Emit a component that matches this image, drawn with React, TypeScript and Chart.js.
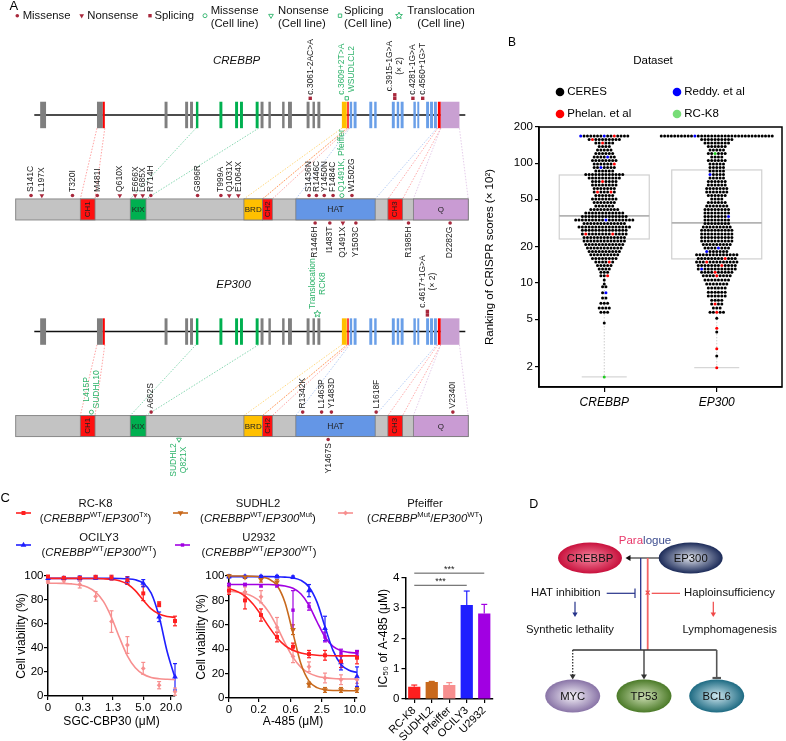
import React, { useEffect, useRef } from 'react';
import { Chart, registerables } from 'chart.js';

Chart.register(...registerables);

const FONT = '"Liberation Sans", Arial, Helvetica, sans-serif';
const DARKRED = '#a8283c';
const CELLGREEN = '#2eb36b';

// ===================== PANEL A DATA =====================
const mutationLegendNames = ['Missense', 'Nonsense', 'Splicing', 'Missense', 'Nonsense', 'Splicing', 'Translocation'];
const mutationLegendSub = ['', '', '', '(Cell line)', '(Cell line)', '(Cell line)', '(Cell line)'];
const mutationLegendTypes = ['m', 'n', 's', 'mc', 'nc', 'sc', 't'];

const geneNames = ['CREBBP', 'EP300'];
const geneSpan = [30, 470];
const proteinSpan = [11, 473];
const exonStart = [36, 94, 100, 163, 184, 189, 195, 219, 235, 240, 256, 261, 269, 283, 289, 308, 314, 319, 344, 349.5, 352, 356, 372, 377, 395, 400, 404, 417, 421, 430, 434, 438, 442, 445];
const exonEnd = [42, 100, 102, 166, 187, 192, 197.5, 222, 238, 243, 259, 264, 271.5, 285.5, 293, 311, 316.5, 322, 349, 351, 354.5, 359, 375, 379.5, 398, 402.5, 407, 419.5, 423, 433, 437, 441, 445, 464];
const exonKind = ['g', 'g', 'r', 'g', 'g', 'g', 'G', 'G', 'G', 'G', 'G', 'g', 'g', 'g', 'g', 'g', 'g', 'g', 'y', 'r', 'b', 'b', 'b', 'b', 'b', 'b', 'b', 'b', 'b', 'b', 'b', 'b', 'r', 'p'];

const domainNames = ['CH1', 'KIX', 'BRD', 'CH2', 'HAT', 'CH3', 'Q'];
const domainStart = [77, 128, 244, 263, 297, 391, 417];
const domainEnd = [92, 144, 263, 273, 378, 406, 473];
const domainExonFrom = [94, 195, 344, 349.5, 352, 442, 445];
const domainExonTo = [102, 259, 349, 351, 441, 445, 464];

const crebbpProtLabels = ['S141C', 'L197X', 'T320I', 'M481I', 'Q610X', 'E666X', 'L685X', 'R714H', 'G896R', 'T999A', 'Q1031X', 'E1064X', 'S1436N', 'R1446C', 'Y1450N', 'F1484C', 'Q1491K, Pfeiffer', 'W1502G', 'R1446H', 'I1483T', 'Q1491X', 'Y1503C', 'R1985H', 'D2282G'];
const crebbpProtPos = [26.7, 37.7, 69, 94.3, 117.3, 133, 140.7, 149, 196.7, 220.5, 229, 238.3, 310.5, 318, 326, 335, 344, 354.3, 316.7, 331.7, 345, 358.3, 412, 454.5];
const crebbpProtType = ['m', 'n', 'm', 'm', 'n', 'n', 'n', 'm', 'm', 'm', 'n', 'n', 'm', 'm', 'm', 'm', 'mc', 'm', 'm', 'm', 'n', 'm', 'm', 'm'];
const crebbpProtSide = ['u', 'u', 'u', 'u', 'u', 'u', 'u', 'u', 'u', 'u', 'u', 'u', 'u', 'u', 'u', 'u', 'u', 'u', 'd', 'd', 'd', 'd', 'd', 'd'];

const crebbpSpliceLabels = ['c.3061-2AC>A', 'c.3609+2T>A|WSUDLCL2', 'c.3915-1G>A|(× 2)', 'c.4281-1G>A', 'c.4560+1G>T'];
const crebbpSplicePos = [311.7, 349, 398, 416.5, 426.5];
const crebbpSpliceType = ['s', 'sc', 's', 's', 's'];
const crebbpSpliceCount = [1, 1, 2, 1, 1];

const ep300ProtLabels = ['L415P|SUDHL10', 'A662S', 'R1342K', 'L1463P', 'Y1483D', 'L1618F', 'V2340I', 'SUDHL2|Q821X', 'Y1467S'];
const ep300ProtPos = [88.3, 149.3, 304, 323.3, 333.3, 379, 457.3, 177.7, 330];
const ep300ProtType = ['mc', 'm', 'm', 'm', 'm', 'm', 'm', 'nc', 'm'];
const ep300ProtSide = ['u', 'u', 'u', 'u', 'u', 'u', 'u', 'd', 'd'];

const ep300SpliceLabels = ['Translocation|RCK8', 'c.4617+1G>A|(× 2)'];
const ep300SplicePos = [319, 431.3];
const ep300SpliceType = ['t', 's'];
const ep300SpliceCount = [1, 2];

// ===================== PANEL B DATA =====================
const swarmCategories = ['CREBBP', 'EP300'];
const swarmTicks = [2, 5, 10, 20, 50, 100, 200];
const datasetNames = ['CERES', 'Reddy. et al', 'Phelan. et al', 'RC-K8'];
const datasetCodes = ['k', 'b', 'r', 'g'];

const crebbpRowValues = [168.1, 157.3, 147.1, 137.6, 128.6, 120.3, 112.5, 105.1, 98.3, 91.9, 86.0, 80.4, 75.2, 70.3, 65.7, 61.5, 57.5, 53.7, 50.2, 47.0, 43.9, 41.1, 38.4, 35.9, 33.6, 31.4, 29.4, 27.5, 25.7, 24.0, 22.4, 21.0, 19.6, 18.3, 17.2, 16.0, 15.0, 14.0, 13.1, 12.3, 11.5, 10.6, 9.8, 9.3, 8.3, 7.5, 6.8, 6.2, 5.7, 4.65, 1.65];
const crebbpRowDots = ['bkkkkkkbkkrkkkk', 'krkkkkkkkk', 'kkrkkk', 'kkkk', 'kkkkk', 'kkkkkk', 'kkkkbkk', 'kkkkkkkk', 'kkkkkkr', 'kkbkkkk', 'kkkkkk', 'kkkkkkkkkkkk', 'kkkkkkkkkk', 'kkkrkkkk', 'kkkkkkkk', 'kkkkkkk', 'krkkkrk', 'kkkkkk', 'kkkkkkkk', 'kkkkkkk', 'kkkkkk', 'kkkkkkkkk', 'kkkkkkkkkkkk', 'kkkkkkkkkkkkkk', 'kkkkkkkkkbkkkkkkkk', 'kkkkkkkkkkkkk', 'kkkkkkkkkkkkkkkk', 'kkkkkkkkkkkkkk', 'krkkkkkkkrkkkk', 'kkkkkkkkkkkkk', 'kkkkkkkkkkkkk', 'kkkkkkkkkkkk', 'kkkkkkkkkkk', 'kkkkkkkkkk', 'kkkkkkkkk', 'kkkkkkkk', 'kkkkrk', 'kkkkk', 'kkkk', 'kkk', 'kkr', 'k', 'k', 'kk', 'kb', 'kk', 'kkk', 'kkkk', 'kkk', 'k', 'g'];

const ep300RowValues = [168.1, 157.3, 147.1, 137.6, 128.6, 120.3, 112.5, 105.1, 98.3, 91.9, 86.0, 80.4, 75.2, 70.3, 65.7, 61.5, 57.5, 53.7, 50.2, 47.0, 43.9, 41.1, 38.4, 35.9, 33.6, 31.4, 29.4, 27.5, 25.7, 24.0, 22.4, 21.0, 19.6, 18.3, 17.2, 16.0, 15.0, 14.0, 13.1, 12.3, 11.5, 10.6, 9.8, 9.1, 8.4, 7.8, 7.2, 6.7, 6.2, 5.7, 5.1, 4.2, 3.9, 2.83, 2.47, 1.97];
const ep300RowDots = ['kkkkkkkkkkbkkkkkkkkkkkkkkkkkkkkkkk', 'kkkkkkkkkk', 'kkkkkkkk', 'kkkkkk', 'kkkkk', 'kkgkkk', 'kkkk', 'kkkkkk', 'kkkkk', 'kkkkk', 'kkkkk', 'bkkkk', 'kkkkk', 'kkkkkk', 'kkkkkk', 'kkkkkkk', 'kkkkkkk', 'kkkkkk', 'kkkk', 'kkkkkk', 'kkkkkkk', 'kkkkkkkk', 'kkkkkkkk', 'kkkkkkkb', 'kkkkkkkk', 'kkkkkkkk', 'kkkkkkkkk', 'kkkkkkkkkk', 'kkkkkkkkkk', 'kkkkkkkkkk', 'kkkkkkkkkk', 'kkkkkkkkk', 'kkkkbkkk', 'bkkkkkk', 'kkkkkkkkkkkkk', 'kkkkkkkkrkkk', 'kkkrkkkkkkkkk', 'kkkkkkkrkkkk', 'kbkkkkkkkkkk', 'kkkkrkkkkk', 'kkkkrkkkk', 'kkkkkkkk', 'kkkkkkk', 'kkkkkk', 'kkkkkk', 'kkkkkk', 'kkkk', 'krkk', 'kkk', 'kkrkk', 'k', 'r', 'k', 'r', 'k', 'r'];

const boxQ1 = [23.3, 15.9];
const boxMedian = [36.3, 31.7];
const boxQ3 = [79.6, 87.7];
const whiskerLow = [1.65, 1.97];
const whiskerHigh = [168.1, 168.1];

// ===================== PANEL C DATA =====================
const cellLines = ['RC-K8', 'SUDHL2', 'Pfeiffer', 'OCILY3', 'U2932'];
const crebbpStatus = ['WT', 'WT', 'Mut', 'WT', 'WT'];
const ep300Status = ['Tx', 'Mut', 'WT', 'WT', 'WT'];
const doseIndex = [0, 1, 2, 3, 4, 5, 6, 7, 8];
const curveIndex = [0, 0.5, 1, 1.5, 2, 2.5, 3, 3.5, 4, 4.5, 5, 5.5, 6, 6.5, 7, 7.5, 8];
const sgcTickPos = [0, 2.2, 4.1, 6, 7.75];
const sgcTickLabels = ['0', '0.3', '1.3', '5.0', '20.0'];
const a485TickPos = [0, 1.85, 3.85, 5.8, 7.85];
const a485TickLabels = ['0', '0.2', '0.6', '2.5', '10.0'];

const sgcRCK8Mean = [99.5, 98.5, 98.5, 99, 98.6, 96.5, 85.5, 76.5, 62.5];
const sgcRCK8Err = [1, 1, 1, 1.5, 2, 3, 6, 2, 4];
const sgcRCK8Fit = [98, 98, 98, 98, 98, 97.9, 97.9, 97.7, 97.3, 96.1, 93.3, 87.8, 79.9, 72.6, 68.3, 66.3, 65.5];
const sgcOCILY3Mean = [98, 98, 98, 98.5, 98, 96, 94, 66, 16];
const sgcOCILY3Err = [1, 1.5, 2, 1, 1, 3, 3, 4, 11];
const sgcOCILY3Fit = [98, 98, 98, 98, 98, 98, 98, 98, 98, 97.9, 97.6, 96.8, 94.0, 85.8, 66.2, 37.3, 15.1];
const sgcPfeifferMean = [95, 96, 93, 83, 62, 42.5, 23, 9, 3.6];
const sgcPfeifferErr = [1, 2, 3, 4, 9, 7, 5, 3, 3];
const sgcPfeifferFit = [94, 94, 93.7, 93.4, 92.6, 90.7, 86.6, 78.6, 65.4, 48.7, 33.5, 23.5, 18.1, 15.5, 14.4, 13.9, 13.6];

const a485RCK8Mean = [88, 80, 68, 50, 42, 36, 35, 30, 33];
const a485RCK8Err = [3, 7, 5, 4, 3, 3, 4, 5, 5];
const a485RCK8Fit = [89.6, 87.4, 83.5, 77.1, 68.2, 58.3, 49.4, 43.0, 39.1, 36.9, 35.7, 35.1, 34.8, 34.6, 34.5, 34.5, 34.5];
const a485SUDHL2Mean = [100, 99, 97, 95, 56, 11, 6.6, 6.6, 6.6];
const a485SUDHL2Err = [1, 1, 2, 2, 4, 2, 2, 2, 2];
const a485SUDHL2Fit = [100, 100, 99.9, 99.8, 99.2, 97.5, 92.2, 78.3, 53, 27.8, 13.8, 8.5, 6.8, 6.2, 6.1, 6, 6];
const a485PfeifferMean = [88, 87, 83, 58, 34, 25.6, 16.4, 15, 15];
const a485PfeifferErr = [2, 4, 5, 8, 5, 4, 4, 4, 3];
const a485PfeifferFit = [87.5, 86.8, 85.6, 83.1, 78.4, 70.2, 58.5, 45.0, 33.3, 25.1, 20.4, 17.9, 16.7, 16.0, 15.7, 15.6, 15.5];
const a485OCILY3Mean = [99.5, 99.5, 99.5, 99.5, 99, 88, 57, 29, 17.5];
const a485OCILY3Err = [1, 1, 1, 1, 1, 5, 10, 6, 8];
const a485OCILY3Fit = [99.5, 99.5, 99.5, 99.5, 99.5, 99.5, 99.4, 99.1, 98.5, 96.4, 91.0, 78.6, 58.4, 39.0, 27.5, 22.7, 20.9];
const a485U2932Mean = [93, 93, 92, 92, 72, 75, 50, 37, 37];
const a485U2932Err = [1, 1, 1, 1, 16, 3, 4, 3, 2];
const a485U2932Fit = [93, 93, 93, 93, 93, 93, 92.6, 91.8, 89.9, 85.2, 76.0, 62.5, 50.0, 42.3, 38.8, 37.4, 36.8];

const ic50Mean = [0.40, 0.56, 0.46, 3.10, 2.82];
const ic50Err = [0.06, 0.02, 0.08, 0.46, 0.30];
const sigPairs = [[0, 3], [0, 4]];
const sigLevel = [3.75, 4.15];
const sigLabels = ['***', '***'];

// ===================== PANEL D DATA =====================
const nodeNames = ['CREBBP', 'EP300', 'MYC', 'TP53', 'BCL6'];
const effectLabels = ['HAT inhibition', 'Synthetic lethality', 'Haploinsufficiency', 'Lymphomagenesis'];
const paralogueParts = ['Para', 'logue'];

// ===================== STYLES / LAYOUT =====================
const EXON_COLORS: any = { g: '#7f7f7f', r: '#ff0000', G: '#00b050', y: '#ffc000', b: '#6a9fe8', p: '#c9a0d2' };
const DOMAIN_FILL = ['#ff1010', '#00b050', '#ffc000', '#ff1010', '#6496e6', '#ff1010', '#c99bd3'];
const CONNECTOR = ['rgba(255,90,90,0.7)', 'rgba(0,170,90,0.6)', 'rgba(255,190,40,0.75)', 'rgba(255,70,70,0.6)', 'rgba(90,140,230,0.55)', 'rgba(255,80,80,0.6)', 'rgba(200,150,210,0.6)'];
const GENE_Y = [112.3, 333.3];
const EXON_HALF = 13.5;
const PROT_TOP = [198, 419];
const PROT_H = 21;
const PT_STYLE: any = { m: 'circle', n: 'triangle', s: 'rect', mc: 'circle', nc: 'triangle', sc: 'rect', t: 'circle' };
const PT_RADIUS: any = { m: 1.8, n: 2.7, s: 2.4, mc: 2.0, nc: 2.7, sc: 2.4, t: 0 };

const SWARM_COLORS = ['#000000', '#0000ff', '#ff0000', '#22cc22'];
const LEGEND_DOT = ['#000000', '#0000ff', '#ff0000', '#77dd77'];
const SWARM_DX = 0.0299;

const lineColors = ['#ff1f1f', '#c8691c', '#f78f8f', '#1f1fff', '#a100e2'];
const markStyles = ['rect', 'triangle', 'rectRot', 'triangle', 'rect'];
const markRot = [0, 180, 0, 0, 0];
const markRadii = [2.8, 3.3, 2.4, 3.3, 2.4];

function line(ctx: any, x1: number, y1: number, x2: number, y2: number) {
  ctx.beginPath();
  ctx.moveTo(x1, y1);
  ctx.lineTo(x2, y2);
  ctx.stroke();
}

function drawMark(ctx: any, style: string, x: number, y: number, r: number, rot: number, fill: string, stroke: string, lw: number) {
  ctx.save();
  ctx.translate(x, y);
  ctx.rotate((rot * Math.PI) / 180);
  ctx.beginPath();
  if (style === 'circle') ctx.arc(0, 0, r, 0, Math.PI * 2);
  else if (style === 'rect') {
    const s = r * Math.SQRT1_2;
    ctx.rect(-s, -s, 2 * s, 2 * s);
  } else if (style === 'rectRot') {
    ctx.moveTo(0, -r); ctx.lineTo(r, 0); ctx.lineTo(0, r); ctx.lineTo(-r, 0); ctx.closePath();
  } else if (style === 'triangle') {
    ctx.moveTo(0, -r); ctx.lineTo(r * 0.866, r * 0.5); ctx.lineTo(-r * 0.866, r * 0.5); ctx.closePath();
  } else if (style === 'star') {
    for (let k = 0; k < 10; k++) {
      const rr = k % 2 === 0 ? r : r * 0.45;
      const a = -Math.PI / 2 + (k * Math.PI) / 5;
      if (k === 0) ctx.moveTo(rr * Math.cos(a), rr * Math.sin(a));
      else ctx.lineTo(rr * Math.cos(a), rr * Math.sin(a));
    }
    ctx.closePath();
  }
  if (fill) { ctx.fillStyle = fill; ctx.fill(); }
  if (lw > 0) { ctx.strokeStyle = stroke; ctx.lineWidth = lw; ctx.stroke(); }
  ctx.restore();
}

function isCell(t: string) { return t.length === 2 || t === 't'; }

function markSpec(t: string) {
  const cell = isCell(t);
  return {
    style: t === 't' ? 'star' : PT_STYLE[t],
    radius: t === 't' ? 3.6 : PT_RADIUS[t],
    rot: t === 'n' || t === 'nc' ? 180 : 0,
    fill: cell ? '#ffffff' : DARKRED,
    stroke: cell ? CELLGREEN : DARKRED,
    lw: cell ? 0.9 : 0,
  };
}

function vText(ctx: any, text: string, x: number, anchor: number, dir: string, color: string, size: number) {
  const lines = text.split('|');
  ctx.save();
  ctx.font = `${size}px ${FONT}`;
  ctx.fillStyle = color;
  const w = Math.max(...lines.map((l) => ctx.measureText(l).width));
  const cy = dir === 'u' ? anchor - w / 2 : anchor + w / 2;
  const gap = 10;
  lines.forEach((l, i) => {
    ctx.save();
    ctx.translate(x + (i - (lines.length - 1) / 2) * gap, cy);
    ctx.rotate(-Math.PI / 2);
    ctx.textAlign = 'center';
    ctx.textBaseline = 'middle';
    ctx.fillText(l, 0, 0);
    ctx.restore();
  });
  ctx.restore();
}

function drawRuns(ctx: any, runs: any[], cx: number, y: number, size: number) {
  const fontOf = (r: any) => `${r.it ? 'italic ' : ''}${r.sup ? size * 0.68 : size}px ${FONT}`;
  let w = 0;
  runs.forEach((r) => { ctx.font = fontOf(r); w += ctx.measureText(r.t).width; });
  let x = cx - w / 2;
  ctx.textAlign = 'left';
  ctx.textBaseline = 'alphabetic';
  runs.forEach((r) => {
    ctx.font = fontOf(r);
    ctx.fillText(r.t, x, r.sup ? y - size * 0.4 : y);
    x += ctx.measureText(r.t).width;
  });
}

function buildTrack(g: number) {
  const L = g === 0
    ? { pl: crebbpProtLabels, pp: crebbpProtPos, pt: crebbpProtType, ps: crebbpProtSide, sl: crebbpSpliceLabels, sp: crebbpSplicePos, st: crebbpSpliceType, sc: crebbpSpliceCount }
    : { pl: ep300ProtLabels, pp: ep300ProtPos, pt: ep300ProtType, ps: ep300ProtSide, sl: ep300SpliceLabels, sp: ep300SplicePos, st: ep300SpliceType, sc: ep300SpliceCount };
  const pts: any[] = [];
  L.pl.forEach((lab, i) => {
    const up = L.ps[i] === 'u';
    pts.push({ x: L.pp[i], y: up ? PROT_TOP[g] - 3.5 : PROT_TOP[g] + PROT_H + 3.5, type: L.pt[i], label: lab, dir: up ? 'u' : 'd' });
  });
  L.sl.forEach((lab, i) => {
    const top = GENE_Y[g] - EXON_HALF;
    for (let k = 0; k < L.sc[i]; k++) {
      const y = top - (L.st[i] === 't' ? 4.5 : 3.5) - k * 3.6;
      pts.push({ x: L.sp[i], y, type: L.st[i], label: k === L.sc[i] - 1 ? lab : '', dir: 'u' });
    }
  });
  return pts;
}

const panelAPlugin = {
  id: 'panelA',
  beforeDatasetsDraw(chart: any) {
    const ctx = chart.ctx;
    const X = (v: number) => chart.scales.x.getPixelForValue(v);
    const Y = (v: number) => chart.scales.y.getPixelForValue(v);
    ctx.save();
    ctx.fillStyle = '#000';
    ctx.font = `13px ${FONT}`;
    ctx.textAlign = 'left';
    ctx.textBaseline = 'alphabetic';
    ctx.fillText('A', 9.5, 10);

    const legX = [17.3, 81.7, 150, 205, 271, 340, 399];
    const legTX = [22.7, 87.3, 154.5, 210.7, 278, 344, 441];
    mutationLegendTypes.forEach((t, i) => {
      const m = markSpec(t);
      drawMark(ctx, m.style, legX[i], 15.7, m.radius, m.rot, m.fill, m.stroke, m.lw);
      ctx.fillStyle = '#111';
      ctx.font = `11.3px ${FONT}`;
      ctx.textAlign = t === 't' ? 'center' : 'left';
      ctx.textBaseline = 'middle';
      if (mutationLegendSub[i]) {
        ctx.fillText(mutationLegendNames[i], legTX[i], 10.7);
        ctx.fillText(mutationLegendSub[i], legTX[i], 24);
      } else ctx.fillText(mutationLegendNames[i], legTX[i], 15.7);
    });

    ctx.font = `italic 11.5px ${FONT}`;
    ctx.fillStyle = '#111';
    ctx.textAlign = 'center';
    ctx.fillText(geneNames[0], X(236.5), Y(57));
    ctx.fillText(geneNames[1], X(233.4), Y(286));

    for (let g = 0; g < 2; g++) {
      const gy = GENE_Y[g];
      const pt = PROT_TOP[g];
      ctx.lineWidth = 0.8;
      ctx.setLineDash([1.5, 1.5]);
      domainNames.forEach((_, d) => {
        ctx.strokeStyle = CONNECTOR[d];
        line(ctx, X(domainExonFrom[d]), Y(gy + EXON_HALF), X(domainStart[d]), Y(pt));
        line(ctx, X(domainExonTo[d]), Y(gy + EXON_HALF), X(domainEnd[d]), Y(pt));
      });
      ctx.setLineDash([]);
      ctx.strokeStyle = '#111';
      ctx.lineWidth = 1.6;
      line(ctx, X(geneSpan[0]), Y(gy), X(geneSpan[1]), Y(gy));
      exonStart.forEach((s, i) => {
        ctx.fillStyle = EXON_COLORS[exonKind[i]];
        ctx.fillRect(X(s), Y(gy - EXON_HALF), X(exonEnd[i]) - X(s), Y(gy + EXON_HALF) - Y(gy - EXON_HALF));
      });
      ctx.fillStyle = '#c3c3c3';
      ctx.strokeStyle = '#8a8a8a';
      ctx.lineWidth = 1;
      ctx.fillRect(X(proteinSpan[0]), Y(pt), X(proteinSpan[1]) - X(proteinSpan[0]), PROT_H);
      ctx.strokeRect(X(proteinSpan[0]), Y(pt), X(proteinSpan[1]) - X(proteinSpan[0]), PROT_H);
      domainNames.forEach((name, d) => {
        const x0 = X(domainStart[d]);
        const x1 = X(domainEnd[d]);
        ctx.fillStyle = DOMAIN_FILL[d];
        ctx.fillRect(x0, Y(pt), x1 - x0, PROT_H);
        ctx.strokeStyle = '#7a7a7a';
        ctx.lineWidth = 0.8;
        ctx.strokeRect(x0, Y(pt), x1 - x0, PROT_H);
        ctx.fillStyle = '#222';
        ctx.font = `${name === 'HAT' ? 8.5 : 8}px ${FONT}`;
        ctx.textAlign = 'center';
        ctx.textBaseline = 'middle';
        const cx = (x0 + x1) / 2;
        const cy = Y(pt + PROT_H / 2);
        if (name.startsWith('CH')) {
          ctx.save();
          ctx.translate(cx, cy);
          ctx.rotate(-Math.PI / 2);
          ctx.fillText(name, 0, 0);
          ctx.restore();
        } else ctx.fillText(name, cx, cy + 0.5);
      });
    }
    ctx.restore();
  },
  afterDatasetsDraw(chart: any) {
    const ctx = chart.ctx;
    chart.data.datasets.forEach((ds: any, di: number) => {
      const meta = chart.getDatasetMeta(di);
      ds.mut.forEach((p: any, j: number) => {
        const el = meta.data[j];
        if (p.type === 't') {
          const m = markSpec('t');
          drawMark(ctx, m.style, el.x, el.y, m.radius, 0, m.fill, m.stroke, m.lw);
        }
        if (!p.label) return;
        const off = p.type === 't' ? 5 : 3.6;
        const anchor = p.dir === 'u' ? el.y - off : el.y + off;
        vText(ctx, p.label, el.x, anchor, p.dir, isCell(p.type) ? CELLGREEN : '#1a1a1a', 8.5);
      });
    });
  },
};

const panelBPlugin = {
  id: 'panelB',
  beforeDatasetsDraw(chart: any) {
    const ctx = chart.ctx;
    const sx = chart.scales.x;
    const sy = chart.scales.y;
    ctx.save();
    for (let i = 0; i < 2; i++) {
      const c = i + 1;
      const xc = sx.getPixelForValue(c);
      const xl = sx.getPixelForValue(c - 0.4);
      const xr = sx.getPixelForValue(c + 0.4);
      const y1 = sy.getPixelForValue(boxQ1[i]);
      const y3 = sy.getPixelForValue(boxQ3[i]);
      const ym = sy.getPixelForValue(boxMedian[i]);
      const ylo = sy.getPixelForValue(whiskerLow[i]);
      const yhi = sy.getPixelForValue(whiskerHigh[i]);
      ctx.strokeStyle = '#cccccc';
      ctx.lineWidth = 1;
      ctx.setLineDash([1.5, 1.5]);
      line(ctx, xc, y1, xc, ylo);
      line(ctx, xc, y3, xc, yhi);
      ctx.setLineDash([]);
      ctx.strokeStyle = '#d6d6d6';
      ctx.lineWidth = 1.2;
      line(ctx, sx.getPixelForValue(c - 0.2), ylo, sx.getPixelForValue(c + 0.2), ylo);
      ctx.strokeStyle = '#d0d0d0';
      ctx.strokeRect(xl, y3, xr - xl, y1 - y3);
      ctx.strokeStyle = '#b3b3b3';
      ctx.lineWidth = 1.8;
      line(ctx, xl, ym, xr, ym);
    }
    ctx.restore();
  },
  afterDraw(chart: any) {
    const ctx = chart.ctx;
    const a = chart.chartArea;
    ctx.save();
    ctx.strokeStyle = '#000';
    ctx.lineWidth = 1.5;
    ctx.strokeRect(a.left, a.top, a.right - a.left, a.bottom - a.top);
    ctx.fillStyle = '#000';
    ctx.font = `11.5px ${FONT}`;
    ctx.textAlign = 'center';
    ctx.textBaseline = 'middle';
    ctx.fillText('Dataset', 173, 31);
    datasetNames.forEach((n, i) => {
      const x = i % 2 === 0 ? 80 : 197;
      const y = i < 2 ? 62 : 84;
      ctx.beginPath();
      ctx.arc(x, y, 4.3, 0, Math.PI * 2);
      ctx.fillStyle = LEGEND_DOT[i];
      ctx.fill();
      ctx.fillStyle = '#000';
      ctx.textAlign = 'left';
      ctx.fillText(n, x + 7.3, y);
    });
    ctx.font = `12px ${FONT}`;
    ctx.textAlign = 'left';
    ctx.fillText('B', 28, 13);
    ctx.restore();
  },
};

const errorBarPlugin = {
  id: 'errbars',
  beforeDatasetsDraw(chart: any) { drawErrors(chart, false); },
  afterDatasetsDraw(chart: any) { drawErrors(chart, true); },
};

function drawErrors(chart: any, upperPass: boolean) {
  const ctx = chart.ctx;
  const sy = chart.scales.y;
  chart.data.datasets.forEach((ds: any, di: number) => {
    if (!ds.errors || !!ds.upperOnly !== upperPass) return;
    const meta = chart.getDatasetMeta(di);
    ctx.save();
    ctx.lineWidth = 1.2;
    meta.data.forEach((el: any, j: number) => {
      const d = ds.data[j];
      const v = typeof d === 'number' ? d : d.y;
      const e = ds.errors[j];
      if (!e) return;
      const col = Array.isArray(ds.backgroundColor) ? ds.backgroundColor[j] : ds.borderColor;
      ctx.strokeStyle = col;
      const yTop = sy.getPixelForValue(v + e);
      const yBot = sy.getPixelForValue(ds.upperOnly ? v : Math.max(0, v - e));
      const cw = ds.upperOnly ? 3 : 2;
      line(ctx, el.x, yTop, el.x, yBot);
      line(ctx, el.x - cw, yTop, el.x + cw, yTop);
      if (!ds.upperOnly) line(ctx, el.x - cw, yBot, el.x + cw, yBot);
    });
    ctx.restore();
  });
}

const c1LegendPlugin = {
  id: 'c1legend',
  afterDraw(chart: any) {
    const ctx = chart.ctx;
    ctx.save();
    ctx.fillStyle = '#000';
    ctx.font = `13px ${FONT}`;
    ctx.textAlign = 'left';
    ctx.textBaseline = 'alphabetic';
    ctx.fillText('C', 0.5, 11.7);
    const slots = [
      { mx: 23.5, my: 23, cx: 95.5, ny: 17, ly: 32 },
      { mx: 180.5, my: 23, cx: 258, ny: 17, ly: 32 },
      { mx: 345.5, my: 23, cx: 425, ny: 17, ly: 32 },
      { mx: 23.5, my: 55, cx: 99, ny: 50.7, ly: 65.7 },
      { mx: 182.5, my: 55, cx: 259, ny: 50.7, ly: 65.7 },
    ];
    cellLines.forEach((name, i) => {
      const s = slots[i];
      ctx.strokeStyle = lineColors[i];
      ctx.lineWidth = 1.6;
      line(ctx, s.mx - 7.5, s.my, s.mx + 7.5, s.my);
      drawMark(ctx, markStyles[i], s.mx, s.my, markRadii[i], markRot[i], lineColors[i], lineColors[i], 0);
      ctx.fillStyle = '#111';
      ctx.font = `11.3px ${FONT}`;
      ctx.textAlign = 'center';
      ctx.textBaseline = 'alphabetic';
      ctx.fillText(name, s.cx, s.ny);
      drawRuns(ctx, [
        { t: '(' }, { t: 'CREBBP', it: true }, { t: crebbpStatus[i], sup: true }, { t: '/' },
        { t: 'EP300', it: true }, { t: ep300Status[i], sup: true }, { t: ')' },
      ], s.cx, s.ly, 11.3);
    });
    ctx.restore();
  },
};

const sigPlugin = {
  id: 'sig',
  afterDraw(chart: any) {
    const ctx = chart.ctx;
    const sx = chart.scales.x;
    const sy = chart.scales.y;
    ctx.save();
    sigPairs.forEach(([a, b], i) => {
      const y = sy.getPixelForValue(sigLevel[i]);
      const x1 = sx.getPixelForValue(a);
      const x2 = sx.getPixelForValue(b);
      ctx.strokeStyle = '#555';
      ctx.lineWidth = 1;
      line(ctx, x1, y, x2, y);
      ctx.fillStyle = '#222';
      ctx.font = `9px ${FONT}`;
      ctx.textAlign = 'center';
      ctx.textBaseline = 'alphabetic';
      ctx.fillText(sigLabels[i], (x1 + x2) / 2, y - 1.5);
    });
    ctx.restore();
  },
};

const NODE_POS = [[90, 78], [190.7, 78], [72.7, 216], [144, 216], [216.7, 216]];
const NODE_R = [[32, 15.5], [32, 15.5], [27.5, 16.5], [27.5, 16.5], [27.5, 16.5]];
const NODE_IN = ['#f4869f', '#dfe3ec', '#f6f3f9', '#cfe0b6', '#cde6ee'];
const NODE_OUT = ['#c8103c', '#1b2a58', '#8873a6', '#4b7a28', '#1d6a82'];

function arrowHead(ctx: any, x: number, y: number, dir: string, size: number) {
  ctx.beginPath();
  if (dir === 'down') { ctx.moveTo(x, y); ctx.lineTo(x - size * 0.6, y - size); ctx.lineTo(x + size * 0.6, y - size); }
  else if (dir === 'left') { ctx.moveTo(x, y); ctx.lineTo(x + size, y - size * 0.6); ctx.lineTo(x + size, y + size * 0.6); }
  else { ctx.moveTo(x, y); ctx.lineTo(x - size, y - size * 0.6); ctx.lineTo(x - size, y + size * 0.6); }
  ctx.closePath();
  ctx.fill();
}

const panelDPlugin = {
  id: 'panelD',
  afterDatasetsDraw(chart: any) {
    const ctx = chart.ctx;
    const X = (v: number) => chart.scales.x.getPixelForValue(v);
    const Y = (v: number) => chart.scales.y.getPixelForValue(v);
    const meta = chart.getDatasetMeta(0);
    ctx.save();
    ctx.fillStyle = '#000';
    ctx.font = `12.5px ${FONT}`;
    ctx.textAlign = 'left';
    ctx.textBaseline = 'alphabetic';
    ctx.fillText('D', 29.3, 28.3);

    ctx.strokeStyle = '#111';
    ctx.fillStyle = '#111';
    ctx.lineWidth = 1.1;
    line(ctx, X(127), Y(78), X(163), Y(78));
    arrowHead(ctx, X(125.5), Y(78), 'left', 5);
    arrowHead(ctx, X(164.5), Y(78), 'right', 5);
    ctx.strokeStyle = '#26338a';
    ctx.lineWidth = 1.3;
    line(ctx, X(140.7), Y(78), X(140.7), Y(170));
    ctx.strokeStyle = '#f26464';
    ctx.lineWidth = 1.8;
    line(ctx, X(147.7), Y(78), X(147.7), Y(170));
    ctx.strokeStyle = '#333';
    ctx.lineWidth = 1.3;
    line(ctx, X(72.7), Y(170), X(216.7), Y(170));
    ctx.setLineDash([1.5, 1.5]);
    line(ctx, X(72.7), Y(170), X(72.7), Y(195));
    ctx.setLineDash([]);
    ctx.fillStyle = '#333';
    arrowHead(ctx, X(72.7), Y(199.5), 'down', 5);
    line(ctx, X(144), Y(170), X(144), Y(195));
    arrowHead(ctx, X(144), Y(199.5), 'down', 5);
    ctx.strokeStyle = '#555';
    ctx.lineWidth = 1.6;
    line(ctx, X(216.7), Y(170), X(216.7), Y(198));
    ctx.lineWidth = 2.2;
    line(ctx, X(212.5), Y(198), X(221), Y(198));
    ctx.strokeStyle = '#26338a';
    ctx.lineWidth = 1.2;
    line(ctx, X(106.7), Y(113.3), X(135), Y(113.3));
    line(ctx, X(135), Y(108.5), X(135), Y(118));
    ctx.strokeStyle = '#f04848';
    line(ctx, X(151.7), Y(113.3), X(180), Y(113.3));
    ctx.lineWidth = 1.2;
    line(ctx, X(145.7), Y(110.7), X(149.7), Y(114.7));
    line(ctx, X(149.7), Y(110.7), X(145.7), Y(114.7));
    ctx.strokeStyle = '#26338a';
    ctx.fillStyle = '#26338a';
    line(ctx, X(75), Y(121.7), X(75), Y(133));
    arrowHead(ctx, X(75), Y(137), 'down', 4.5);
    ctx.strokeStyle = '#f04848';
    ctx.fillStyle = '#f04848';
    line(ctx, X(213.3), Y(121.7), X(213.3), Y(133));
    arrowHead(ctx, X(213.3), Y(137), 'down', 4.5);

    nodeNames.forEach((name, i) => {
      const el = meta.data[i];
      const [rx, ry] = NODE_R[i];
      ctx.save();
      ctx.translate(el.x, el.y);
      ctx.scale(1, ry / rx);
      const gr = ctx.createRadialGradient(0, 0, 0, 0, 0, rx);
      gr.addColorStop(0, NODE_IN[i]);
      gr.addColorStop(1, NODE_OUT[i]);
      ctx.beginPath();
      ctx.arc(0, 0, rx, 0, Math.PI * 2);
      ctx.fillStyle = gr;
      ctx.fill();
      ctx.restore();
      ctx.fillStyle = '#111';
      ctx.font = `11.3px ${FONT}`;
      ctx.textAlign = 'center';
      ctx.textBaseline = 'middle';
      ctx.fillText(name, el.x, el.y + 0.5);
    });

    ctx.font = `11.5px ${FONT}`;
    ctx.textBaseline = 'middle';
    ctx.textAlign = 'left';
    const w1 = ctx.measureText(paralogueParts[0]).width;
    const w2 = ctx.measureText(paralogueParts[1]).width;
    const px = X(145) - (w1 + w2) / 2;
    ctx.fillStyle = '#e8386a';
    ctx.fillText(paralogueParts[0], px, Y(60.7));
    ctx.fillStyle = '#3d4d8f';
    ctx.fillText(paralogueParts[1], px + w1, Y(60.7));

    ctx.fillStyle = '#111';
    ctx.font = `11.3px ${FONT}`;
    ctx.textAlign = 'center';
    ctx.fillText(effectLabels[0], X(65.8), Y(113.3));
    ctx.fillText(effectLabels[1], X(70), Y(150));
    ctx.fillText(effectLabels[2], X(229.5), Y(113.3));
    ctx.fillText(effectLabels[3], X(229.7), Y(150));
    ctx.restore();
  },
};

const BASE: any = {
  responsive: false,
  animation: false,
  devicePixelRatio: 1,
  events: [],
  plugins: { legend: { display: false }, tooltip: { enabled: false } },
};

function axisCommon() {
  return {
    grid: { drawOnChartArea: false, drawTicks: true, tickLength: 4, color: '#000', lineWidth: 1.2 },
    border: { display: true, color: '#000', width: 1.5 },
  };
}

function doseConfig(series: any[], tickPos: number[], tickLabels: string[], xTitle: string, dims: any) {
  const markers = series.map((s) => ({
    label: cellLines[s.ci],
    data: doseIndex.map((x, i) => ({ x, y: s.mean[i] })),
    errors: s.err,
    pointStyle: markStyles[s.ci],
    pointRadius: markRadii[s.ci],
    pointRotation: markRot[s.ci],
    pointBackgroundColor: lineColors[s.ci],
    pointBorderColor: lineColors[s.ci],
    pointBorderWidth: 0,
    borderColor: lineColors[s.ci],
    backgroundColor: lineColors[s.ci],
    showLine: false,
    order: 0,
    clip: false,
  }));
  const curves = series.map((s) => ({
    label: cellLines[s.ci] + ' fit',
    data: curveIndex.map((x, i) => ({ x, y: s.fit[i] })),
    showLine: true,
    pointRadius: 0,
    borderColor: lineColors[s.ci],
    backgroundColor: lineColors[s.ci],
    borderWidth: 1.6,
    cubicInterpolationMode: 'monotone',
    fill: false,
    order: 1,
    clip: false,
  }));
  return {
    type: 'scatter',
    data: { datasets: [...markers, ...curves] },
    options: {
      ...BASE,
      layout: { padding: { top: dims.pt, right: dims.pr, left: 0, bottom: 0 } },
      scales: {
        x: {
          type: 'linear', min: 0, max: 8,
          afterBuildTicks: (s: any) => { s.ticks = tickPos.map((v) => ({ value: v })); },
          afterFit: (s: any) => { s.height = dims.xh; },
          ticks: { callback: (_v: any, i: number) => tickLabels[i], font: { family: FONT, size: 11.5 }, color: '#000', padding: 1, maxRotation: 0, autoSkip: false },
          ...axisCommon(),
          title: { display: true, text: xTitle, font: { family: FONT, size: 12 }, color: '#000', padding: { top: 0, bottom: dims.xtp } },
        },
        y: {
          type: 'linear', min: 0, max: 100,
          afterFit: (s: any) => { s.width = dims.yw; },
          ticks: { stepSize: 20, font: { family: FONT, size: 11.5 }, color: '#000', padding: 0.5 },
          ...axisCommon(),
          title: { display: true, text: 'Cell viability (%)', font: { family: FONT, size: 12 }, color: '#000', padding: { top: dims.ytp, bottom: 0 } },
        },
      },
    },
  };
}

export default function App() {
  const refA = useRef<HTMLCanvasElement>(null);
  const refB = useRef<HTMLCanvasElement>(null);
  const refC1 = useRef<HTMLCanvasElement>(null);
  const refC2 = useRef<HTMLCanvasElement>(null);
  const refC3 = useRef<HTMLCanvasElement>(null);
  const refD = useRef<HTMLCanvasElement>(null);

  useEffect(() => {
    const charts: any[] = [];

    const aSets = [0, 1].map((g) => {
      const pts = buildTrack(g);
      return {
        label: geneNames[g],
        data: pts.map((p) => ({ x: p.x, y: p.y })),
        mut: pts,
        pointStyle: pts.map((p) => PT_STYLE[p.type]),
        pointRadius: pts.map((p) => PT_RADIUS[p.type]),
        pointRotation: pts.map((p) => (p.type === 'n' || p.type === 'nc' ? 180 : 0)),
        pointBackgroundColor: pts.map((p) => (isCell(p.type) ? '#ffffff' : DARKRED)),
        pointBorderColor: pts.map((p) => (isCell(p.type) ? CELLGREEN : DARKRED)),
        pointBorderWidth: pts.map((p) => (isCell(p.type) ? 0.9 : 0)),
        showLine: false,
        clip: false,
      };
    });
    charts.push(new Chart(refA.current as any, {
      type: 'scatter',
      data: { datasets: aSets as any },
      options: {
        ...BASE,
        layout: { padding: 0 },
        scales: {
          x: { type: 'linear', min: 0, max: 480, display: false },
          y: { type: 'linear', min: 0, max: 492, reverse: true, display: false },
        },
      },
      plugins: [panelAPlugin],
    } as any));

    const swarmRows = [
      { values: crebbpRowValues, dots: crebbpRowDots },
      { values: ep300RowValues, dots: ep300RowDots },
    ];
    const bSets = datasetCodes.map((code, ci) => {
      const pts: any[] = [];
      swarmRows.forEach((rows, g) => {
        rows.dots.forEach((row, r) => {
          const n = row.length;
          for (let j = 0; j < n; j++) {
            if (row[j] === code) pts.push({ x: g + 1 + (j - (n - 1) / 2) * SWARM_DX, y: rows.values[r] });
          }
        });
      });
      return {
        label: datasetNames[ci],
        data: pts,
        pointRadius: 1.5,
        pointBackgroundColor: SWARM_COLORS[ci],
        pointBorderColor: SWARM_COLORS[ci],
        pointBorderWidth: 0,
        showLine: false,
        order: code === 'k' ? 1 : 0,
        clip: false,
      };
    });
    charts.push(new Chart(refB.current as any, {
      type: 'scatter',
      data: { datasets: bSets as any },
      options: {
        ...BASE,
        layout: { padding: { top: 97, right: 1, left: 0, bottom: 0 } },
        scales: {
          x: {
            type: 'linear', min: 0.42, max: 2.58,
            afterBuildTicks: (s: any) => { s.ticks = [{ value: 1 }, { value: 2 }]; },
            afterFit: (s: any) => { s.height = 53; },
            ticks: { callback: (v: any) => swarmCategories[Math.round(v) - 1], font: { family: FONT, size: 12, style: 'italic' }, color: '#000', padding: 3, maxRotation: 0, autoSkip: false },
            grid: { drawOnChartArea: false, drawTicks: true, tickLength: 5, color: '#000', lineWidth: 1.2 },
            border: { display: true, color: '#000', width: 1.5 },
          },
          y: {
            type: 'logarithmic', min: 1.36, max: 200,
            afterBuildTicks: (s: any) => { s.ticks = swarmTicks.map((v) => ({ value: v })); },
            afterFit: (s: any) => { s.width = 59; },
            ticks: { callback: (v: any) => String(v), font: { family: FONT, size: 11.5 }, color: '#000', padding: 2 },
            grid: { drawOnChartArea: false, drawTicks: true, tickLength: 4, color: '#000', lineWidth: 1.2 },
            border: { display: true, color: '#000', width: 1.5 },
            title: { display: true, text: 'Ranking of CRISPR scores (× 10²)', font: { family: FONT, size: 11.5 }, color: '#000', padding: { top: 3, bottom: 0 } },
          },
        },
      },
      plugins: [panelBPlugin],
    } as any));

    const c1 = doseConfig(
      [
        { ci: 0, mean: sgcRCK8Mean, err: sgcRCK8Err, fit: sgcRCK8Fit },
        { ci: 3, mean: sgcOCILY3Mean, err: sgcOCILY3Err, fit: sgcOCILY3Fit },
        { ci: 2, mean: sgcPfeifferMean, err: sgcPfeifferErr, fit: sgcPfeifferFit },
      ],
      sgcTickPos, sgcTickLabels, 'SGC-CBP30 (μM)',
      { pt: 86, pr: 325, yw: 48, xh: 45, ytp: 14.5, xtp: 11.8 },
    );
    charts.push(new Chart(refC1.current as any, { ...c1, plugins: [errorBarPlugin, c1LegendPlugin] } as any));

    const c2 = doseConfig(
      [
        { ci: 0, mean: a485RCK8Mean, err: a485RCK8Err, fit: a485RCK8Fit },
        { ci: 1, mean: a485SUDHL2Mean, err: a485SUDHL2Err, fit: a485SUDHL2Fit },
        { ci: 2, mean: a485PfeifferMean, err: a485PfeifferErr, fit: a485PfeifferFit },
        { ci: 3, mean: a485OCILY3Mean, err: a485OCILY3Err, fit: a485OCILY3Fit },
        { ci: 4, mean: a485U2932Mean, err: a485U2932Err, fit: a485U2932Fit },
      ],
      a485TickPos, a485TickLabels, 'A-485 (μM)',
      { pt: 86, pr: 18, yw: 44, xh: 43, ytp: 9.8, xtp: 11.8 },
    );
    charts.push(new Chart(refC2.current as any, { ...c2, plugins: [errorBarPlugin] } as any));

    charts.push(new Chart(refC3.current as any, {
      type: 'bar',
      data: {
        labels: cellLines,
        datasets: [{
          label: 'IC50',
          data: ic50Mean,
          backgroundColor: lineColors,
          borderWidth: 0,
          barPercentage: 0.7,
          categoryPercentage: 1,
          errors: ic50Err,
          upperOnly: true,
        }],
      },
      options: {
        ...BASE,
        layout: { padding: { top: 87.7, right: 7, left: 0, bottom: 0 } },
        scales: {
          x: {
            type: 'category',
            afterFit: (s: any) => { s.height = 42; },
            ticks: { maxRotation: 45, minRotation: 45, autoSkip: false, font: { family: FONT, size: 11 }, color: '#000', padding: 1 },
            grid: { drawOnChartArea: false, drawTicks: true, tickLength: 4, color: '#000', lineWidth: 1.2, offset: false },
            border: { display: true, color: '#000', width: 1.5 },
          },
          y: {
            type: 'linear', min: 0, max: 4,
            afterFit: (s: any) => { s.width = 33.5; },
            ticks: { stepSize: 1, font: { family: FONT, size: 11.5 }, color: '#000', padding: 2 },
            ...axisCommon(),
            title: { display: true, text: 'IC₅₀ of A-485 (μM)', font: { family: FONT, size: 12 }, color: '#000', padding: { top: 4, bottom: 0 } },
          },
        },
      },
      plugins: [errorBarPlugin, sigPlugin],
    } as any));

    charts.push(new Chart(refD.current as any, {
      type: 'scatter',
      data: { datasets: [{ label: 'nodes', data: NODE_POS.map(([x, y]) => ({ x, y })), pointRadius: 0 }] },
      options: {
        ...BASE,
        layout: { padding: 0 },
        scales: {
          x: { type: 'linear', min: 0, max: 286, display: false },
          y: { type: 'linear', min: 0, max: 261, reverse: true, display: false },
        },
      },
      plugins: [panelDPlugin],
    } as any));

    return () => { charts.forEach((c) => c.destroy()); };
  }, []);

  const abs = (left: number, top: number, w: number, h: number): any => ({ position: 'absolute', left, top, width: w, height: h });

  return (
    <div style={{ position: 'absolute', left: 0, top: 0, width: 786, height: 741, background: '#ffffff', overflow: 'hidden' }}>
      <canvas ref={refA} width={480} height={492} style={abs(0, 0, 480, 492)} />
      <canvas ref={refB} width={306} height={410} style={abs(480, 30, 306, 410)} />
      <canvas ref={refC1} width={500} height={251} style={abs(0, 490, 500, 251)} />
      <canvas ref={refC2} width={190} height={251} style={abs(185, 490, 190, 251)} />
      <canvas ref={refC3} width={128} height={251} style={abs(372, 490, 128, 251)} />
      <canvas ref={refD} width={286} height={261} style={abs(500, 480, 286, 261)} />
    </div>
  );
}
